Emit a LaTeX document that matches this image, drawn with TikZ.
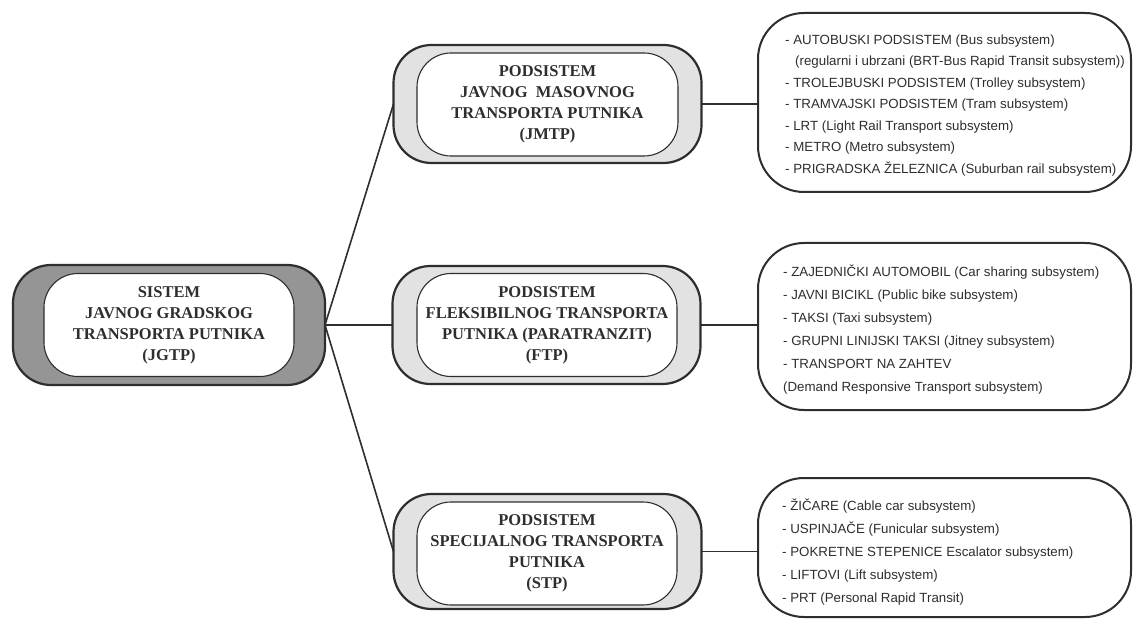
\documentclass[tikz,border=0pt]{standalone}
\usepackage{fontspec}
\setmainfont{Liberation Serif}
\newfontfamily\listfont{Liberation Sans}
\definecolor{ink}{HTML}{2E2E2E}
\definecolor{darkfill}{HTML}{959595}
\definecolor{lightfill}{HTML}{E2E2E2}
\tikzset{
  frame/.style={draw=ink, line width=2.2pt, rounded corners=38pt, outer sep=0pt, inner sep=0pt},
  mainouter/.style={frame, fill=darkfill, minimum width=312pt, minimum height=120pt},
  subouter/.style={frame, fill=lightfill, minimum width=308pt, minimum height=118pt},
  innerbox/.style={draw=ink, line width=1.1pt, fill=white, rounded corners=34pt, outer sep=0pt, inner sep=0pt,
    minimum height=103pt, text=ink, align=center,
    font=\fontsize{16.5}{21}\selectfont\bfseries},
  listbox/.style={draw=ink, line width=2pt, fill=white, rounded corners=46pt, outer sep=0pt, inner sep=0pt,
    minimum width=373pt},
  listtext/.style={anchor=west, inner sep=0pt, align=left, text=ink},
  link/.style={draw=ink, line width=1.6pt}
}
\begin{document}
\begin{tikzpicture}[x=1pt, y=-1pt]
\useasboundingbox (0,0) rectangle (1133,620);
\fill[white] (0,0) rectangle (1133,620);

% root system
\node[mainouter] (jgtp) at (169,325) {};
\node[innerbox, minimum width=250pt] (jgtpin) at (169,325) {SISTEM\\JAVNOG GRADSKOG\\TRANSPORTA PUTNIKA\\(JGTP)};

% subsystems
\node[subouter] (jmtp) at (547.5,104) {};
\node[innerbox, minimum width=261pt] (jmtpin) at (547.5,104.5) {PODSISTEM\\JAVNOG\ \ MASOVNOG\\TRANSPORTA PUTNIKA\\(JMTP)};

\node[subouter] (ftp) at (546.5,325) {};
\node[innerbox, minimum width=260pt] (ftpin) at (547,325) {PODSISTEM\\FLEKSIBILNOG TRANSPORTA\\PUTNIKA (PARATRANZIT)\\(FTP)};

\node[subouter, minimum height=115pt] (stp) at (547.5,551.5) {};
\node[innerbox, minimum width=260pt] (stpin) at (547,553.5) {PODSISTEM\\SPECIJALNOG TRANSPORTA\\PUTNIKA\\(STP)};

% lists of modes
\node[listbox, minimum height=179pt] (l1) at (944.5,102.5) {};
\node[listbox, minimum height=167pt] (l2) at (944.5,326.5) {};
\node[listbox, minimum height=139pt] (l3) at (944.5,547.5) {};

\node[listtext, font=\listfont\fontsize{13.3}{21.5}\selectfont] (t1) at (785,105.5) {%
- AUTOBUSKI PODSISTEM (Bus subsystem)\\
\hspace*{10pt}(regularni i ubrzani (BRT-Bus Rapid Transit subsystem))\\
- TROLEJBUSKI PODSISTEM (Trolley subsystem)\\
- TRAMVAJSKI PODSISTEM (Tram subsystem)\\
- LRT (Light Rail Transport subsystem)\\
- METRO (Metro subsystem)\\
- PRIGRADSKA ŽELEZNICA (Suburban rail subsystem)};

\node[listtext, font=\listfont\fontsize{13.3}{23}\selectfont] (t2) at (783,330) {%
- ZAJEDNIČKI AUTOMOBIL (Car sharing subsystem)\\
- JAVNI BICIKL (Public bike subsystem)\\
- TAKSI (Taxi subsystem)\\
- GRUPNI LINIJSKI TAKSI (Jitney subsystem)\\
- TRANSPORT NA ZAHTEV\\
(Demand Responsive Transport subsystem)};

\node[listtext, font=\listfont\fontsize{13.3}{23}\selectfont] (t3) at (782,552) {%
- ŽIČARE (Cable car subsystem)\\
- USPINJAČE (Funicular subsystem)\\
- POKRETNE STEPENICE Escalator subsystem)\\
- LIFTOVI (Lift subsystem)\\
- PRT (Personal Rapid Transit)};

% connectors
\draw[link] (jgtp.east) -- (jmtp.west);
\draw[link] (jgtp.east) -- (ftp.west);
\draw[link] (jgtp.east) -- (stp.west);
\draw[link] (jmtp.east) -- (jmtp.east -| l1.west);
\draw[link] (ftp.east) -- (ftp.east -| l2.west);
\draw[link] (stp.east) -- (stp.east -| l3.west);
\end{tikzpicture}
\end{document}
